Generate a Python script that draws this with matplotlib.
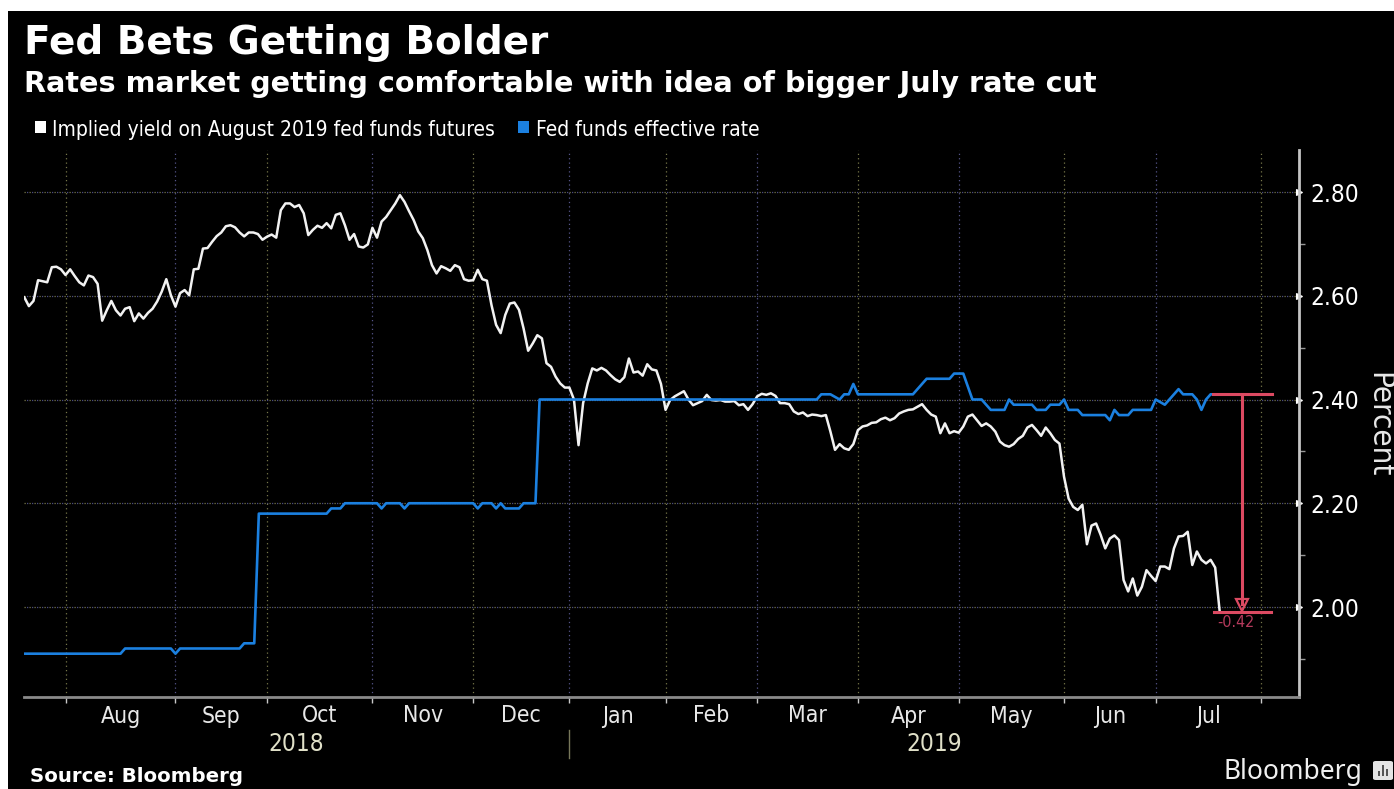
import matplotlib
matplotlib.use('Agg')
import matplotlib.pyplot as plt
from matplotlib.patches import Rectangle, FancyBboxPatch
from matplotlib.ticker import FixedLocator, FormatStrFormatter
from matplotlib.transforms import blended_transform_factory

# Implied yield, one value per trading day, counted from the first day on the chart
futures_yield = [
    2.597, 2.580, 2.590, 2.630, 2.628, 2.626, 2.655, 2.656, 2.651, 2.640,
    2.651, 2.638, 2.626, 2.620, 2.639, 2.636, 2.623, 2.552, 2.572, 2.590,
    2.572, 2.562, 2.575, 2.578, 2.551, 2.566, 2.556, 2.567, 2.575, 2.589,
    2.608, 2.632, 2.601, 2.579, 2.605, 2.611, 2.601, 2.651, 2.652, 2.691,
    2.692, 2.704, 2.715, 2.722, 2.734, 2.736, 2.732, 2.722, 2.7145, 2.722,
    2.722, 2.719, 2.708, 2.714, 2.718, 2.712, 2.765, 2.778, 2.778, 2.771,
    2.775, 2.759, 2.717, 2.727, 2.735, 2.731, 2.740, 2.730, 2.756, 2.759,
    2.736, 2.708, 2.719, 2.695, 2.693, 2.699, 2.731, 2.712, 2.743, 2.752,
    2.765, 2.778, 2.794, 2.781, 2.763, 2.746, 2.724, 2.711, 2.688, 2.659,
    2.643, 2.657, 2.653, 2.648, 2.659, 2.655, 2.632, 2.629, 2.630, 2.650,
    2.632, 2.629, 2.582, 2.544, 2.528, 2.563, 2.585, 2.587, 2.573, 2.537,
    2.494, 2.508, 2.524, 2.518, 2.470, 2.463, 2.444, 2.431, 2.423, 2.423,
    2.400, 2.312, 2.393, 2.431, 2.460, 2.456, 2.461, 2.456, 2.447, 2.439,
    2.434, 2.443, 2.479, 2.452, 2.454, 2.446, 2.468, 2.458, 2.456, 2.430,
    2.380, 2.399, 2.406, 2.411, 2.416, 2.400, 2.389, 2.393, 2.397, 2.409,
    2.399, 2.398, 2.399, 2.396, 2.396, 2.397, 2.389, 2.391, 2.380, 2.391,
    2.406, 2.411, 2.409, 2.412, 2.407, 2.393, 2.393, 2.391, 2.377, 2.372,
    2.375, 2.368, 2.371, 2.370, 2.368, 2.370, 2.338, 2.303, 2.314, 2.306,
    2.303, 2.314, 2.341, 2.348, 2.350, 2.355, 2.356, 2.362, 2.365, 2.360,
    2.364, 2.373, 2.377, 2.380, 2.381, 2.386, 2.391, 2.380, 2.371, 2.367,
    2.335, 2.354, 2.335, 2.339, 2.336, 2.348, 2.367, 2.371, 2.360, 2.349,
    2.354, 2.348, 2.338, 2.319, 2.312, 2.309, 2.314, 2.324, 2.330, 2.346,
    2.351, 2.341, 2.330, 2.346, 2.335, 2.322, 2.315, 2.251, 2.209, 2.193,
    2.187, 2.197, 2.121, 2.157, 2.161, 2.139, 2.113, 2.132, 2.138, 2.129,
    2.052, 2.030, 2.055, 2.022, 2.039, 2.071, 2.060, 2.050, 2.078, 2.078,
    2.073, 2.113, 2.136, 2.137, 2.145, 2.081, 2.107, 2.091, 2.084, 2.091,
    2.076, 1.990,
]

# Effective rate only moves now and then, so just the days where it turns
rate_days = [
    0, 21, 22, 32, 33, 34, 47, 48, 50.2, 51.2, 66, 67, 69, 70, 77, 78, 79, 82, 83, 84,
    98, 99, 100, 102, 103, 104, 105, 108, 109, 111.6, 112.5, 173, 174, 176, 178, 179,
    180, 181, 182, 194, 197, 202, 203, 205, 207, 209, 211, 214, 215, 216, 220, 221,
    223, 224, 226, 227, 228, 230, 231, 236, 237, 238, 239, 241, 242, 246, 247, 249,
    252, 253, 255, 256, 257, 258, 259, 261,
]
rate_values = [
    1.91, 1.91, 1.92, 1.92, 1.91, 1.92, 1.92, 1.93, 1.93, 2.18, 2.18, 2.19, 2.19, 2.20, 2.20, 2.19, 2.20, 2.20, 2.19, 2.20,
    2.20, 2.19, 2.20, 2.20, 2.19, 2.20, 2.19, 2.19, 2.20, 2.20, 2.40, 2.40, 2.41, 2.41, 2.40, 2.41,
    2.41, 2.43, 2.41, 2.41, 2.44, 2.44, 2.45, 2.45, 2.40, 2.40, 2.38, 2.38, 2.40, 2.39, 2.39, 2.38,
    2.38, 2.39, 2.39, 2.40, 2.38, 2.38, 2.37, 2.37, 2.36, 2.38, 2.37, 2.37, 2.38, 2.38, 2.40, 2.39,
    2.42, 2.41, 2.41, 2.40, 2.38, 2.40, 2.41, 2.41,
]

month_days = [9, 33, 53, 76, 98, 119, 140, 160, 182, 204, 227, 247, 270]
month_names = ['Aug', 'Sep', 'Oct', 'Nov', 'Dec', 'Jan', 'Feb', 'Mar', 'Apr', 'May', 'Jun', 'Jul']
y_major = [2.0, 2.2, 2.4, 2.6, 2.8]
y_minor = [1.9, 2.1, 2.3, 2.5, 2.7]

WHITE = '#f2f2f2'
BLUE = '#1b80e0'
RED = '#dc4a62'
W, H = 1394, 789
FONT = 'DejaVu Sans'


def fx(px):
    return px / W


def fy(py):
    return 1 - py / H


def label(px, py, s, size, weight='normal', ha='left', color='white', stretch='condensed', family=FONT):
    fig.text(fx(px), fy(py), s, fontsize=size, fontweight=weight, ha=ha, va='center',
             color=color, family=family, stretch=stretch)


def box(px, py, w, h, color):
    # px, py is the lower left corner in picture pixels
    fig.patches.append(Rectangle((fx(px), fy(py)), w / W, h / H, transform=fig.transFigure,
                                 facecolor=color, edgecolor='none', zorder=3))


fig = plt.figure(figsize=(W / 100, H / 100), dpi=100, facecolor='white')
fig.patches.append(Rectangle((fx(8), 0), 1 - fx(8), fy(11), transform=fig.transFigure,
                             facecolor='black', edgecolor='none', zorder=-1))

ax = fig.add_axes([fx(24), fy(697), fx(1299 - 24), (697 - 150) / H], facecolor='black')
ax.set_xlim(-0.07, 278.3)
ax.set_ylim(1.8265, 2.881)

# grid: the dots alternate olive and blue in the original
for v in y_major:
    ax.axhline(v, color='#77774a', lw=0.9, ls=(0, (1, 3)), zorder=1)
    ax.axhline(v, color='#4a4a80', lw=0.9, ls=(2, (1, 3)), zorder=1)
for i, d in enumerate(month_days):
    ax.axvline(d, color='#77774a' if i % 2 == 0 else '#55558a', lw=0.9, ls=(0, (1, 2.5)), zorder=1)

ax.plot(range(len(futures_yield)), futures_yield, color=WHITE, lw=1.8, zorder=3)
ax.plot(rate_days, rate_values, color=BLUE, lw=1.9, zorder=4)

# gap marker at the right end
low = futures_yield[-1]
high = rate_values[-1]
ax.plot([259.6, 272.4], [high, high], color=RED, lw=2.2, zorder=5)
ax.plot([259.8, 272.2], [low, low], color=RED, lw=2.2, zorder=5)
ax.plot([265.8, 265.8], [high, low + 0.015], color=RED, lw=2.2, zorder=5)
ax.plot([265.8], [low + 0.013], marker='v', ms=9, mfc='none', mec=RED, mew=1.6, zorder=5)
ax.text(264.5, low - 0.019, '%.2f' % (low - high), color='#b53a5c', fontsize=11.5, ha='center',
        va='center', family=FONT, stretch='condensed')

for side in ['top', 'left']:
    ax.spines[side].set_visible(False)
ax.spines['bottom'].set_color('#8a8a8a')
ax.spines['bottom'].set_linewidth(2)
ax.spines['right'].set_color('#c4c4c4')
ax.spines['right'].set_linewidth(2)

ax.yaxis.tick_right()
ax.yaxis.set_major_locator(FixedLocator(y_major))
ax.yaxis.set_minor_locator(FixedLocator(y_minor))
ax.yaxis.set_major_formatter(FormatStrFormatter('%.2f'))
ax.tick_params(axis='y', which='major', colors='white', labelsize=17.5, pad=5)
ax.tick_params(axis='y', which='minor', colors='#999999', length=4, width=1)
for t in ax.yaxis.get_major_ticks():
    t.tick2line.set_marker('>')
    t.tick2line.set_markersize(5)
    t.tick2line.set_color('white')
for t in ax.get_yticklabels():
    t.set_family(FONT)
    t.set_stretch('condensed')

ax.set_xticks(month_days)
ax.set_xticklabels([])
ax.tick_params(axis='x', colors='#c8c8c8', length=4, width=1)

# month names sit between the ticks, years under them
tr = blended_transform_factory(ax.transData, fig.transFigure)
for name, a, b in zip(month_names, month_days[:-1], month_days[1:]):
    ax.text((a + b) / 2, fy(716), name, transform=tr, color='#e8e8e8', fontsize=16.5, ha='center',
            va='center', family=FONT, stretch='condensed', clip_on=False)
jan = month_days[5]
x0, x1 = ax.get_xlim()
ax.text((x0 + jan) / 2, fy(744), '2018', transform=tr, color='#e0e0c8', fontsize=17.5, ha='center',
        va='center', family=FONT, stretch='condensed', clip_on=False)
ax.text((jan + x1) / 2, fy(744), '2019', transform=tr, color='#e0e0c8', fontsize=17.5, ha='center',
        va='center', family=FONT, stretch='condensed', clip_on=False)
ax.plot([jan, jan], [fy(730), fy(758)], transform=tr, color='#77775a', lw=1, clip_on=False)

# titles and legend
label(24, 43, 'Fed Bets Getting Bolder', 28, weight='bold', stretch='normal')
label(24, 84, 'Rates market getting comfortable with idea of bigger July rate cut', 20.6, weight='bold', stretch='normal')
box(35, 133, 11, 12, 'white')
label(52, 130, 'Implied yield on August 2019 fed funds futures', 15)
box(518, 133, 11, 12, BLUE)
label(536, 130, 'Fed funds effective rate', 15)

fig.text(fx(1379), fy(425), 'Percent', rotation=270, color='#e8e8e8', fontsize=22.5, ha='center',
         va='center', family=FONT, stretch='condensed')

label(30, 776, 'Source: Bloomberg', 14.2, weight='bold', stretch='normal')
label(1224, 772, 'Bloomberg', 19, weight='normal', color='#f0f0f0', stretch='normal', family='Noto Sans')

# little logo square
fig.patches.append(FancyBboxPatch((fx(1373), fy(780)), 20 / W, 19 / H, boxstyle='round,pad=0,rounding_size=0.002',
                                  transform=fig.transFigure, facecolor='#e4e4e4', edgecolor='none', zorder=3))
for bx, bh in zip([1378, 1382, 1386], [5, 11, 7]):
    box(bx, 776, 2, bh, '#555555')

plt.savefig('out.png', dpi=100, facecolor=fig.get_facecolor())
